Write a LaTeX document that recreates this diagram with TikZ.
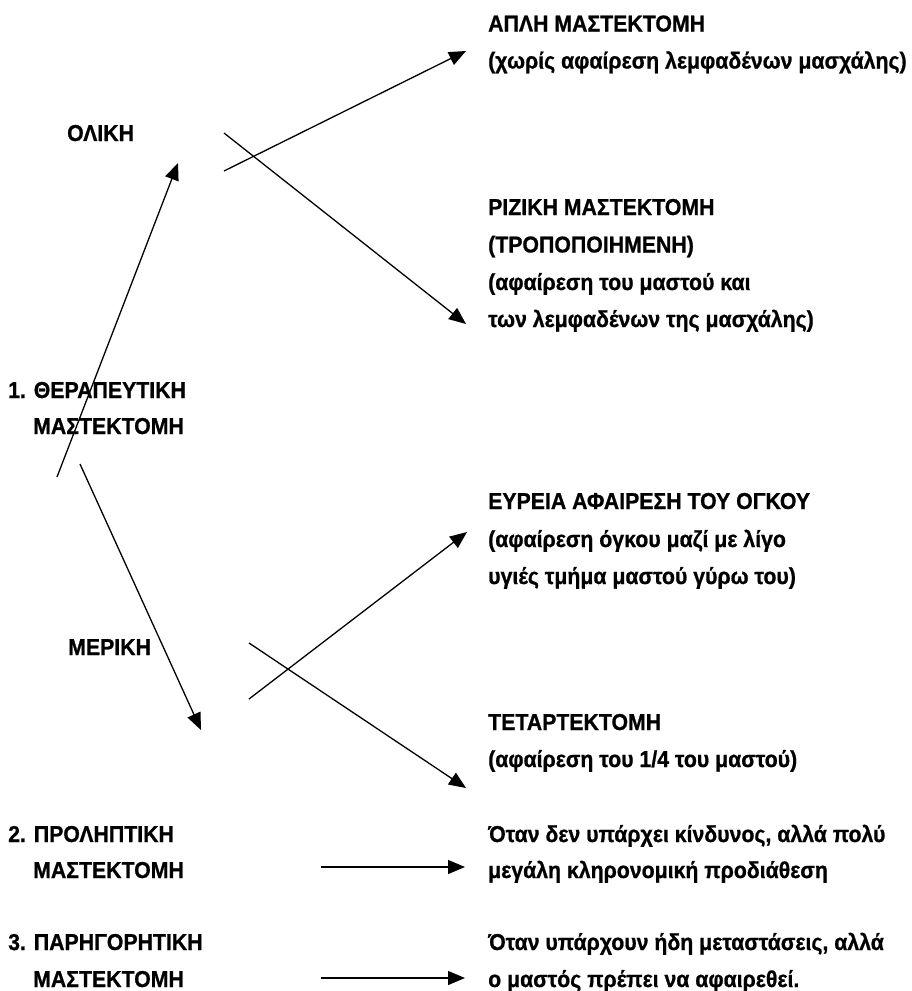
\documentclass[tikz,border=0pt]{standalone}
\usepackage{fontspec}
\setmainfont{Liberation Sans}[BoldFeatures={FakeStretch=0.925,FakeBold=0.8}]
\usetikzlibrary{arrows.meta}
\tikzset{
  txt/.style={anchor=base west, inner sep=0pt, font=\fontsize{23}{26}\selectfont\bfseries},
  arr/.style={line width=1.3pt, -{Triangle[length=17pt,width=14pt]}}
}
\begin{document}
\begin{tikzpicture}[x=1pt,y=-1pt]
\useasboundingbox (0,0) rectangle (912,991);
% left column
\node[txt] (olikh) at (67,141) {ΟΛΙΚΗ};
\node[txt] (ther1) at (8,398) {1. ΘΕΡΑΠΕΥΤΙΚΗ};
\node[txt] (ther2) at (33,434) {ΜΑΣΤΕΚΤΟΜΗ};
\node[txt] (merikh) at (68,655) {ΜΕΡΙΚΗ};
\node[txt] (prol1) at (8,842) {2. ΠΡΟΛΗΠΤΙΚΗ};
\node[txt] (prol2) at (33,878) {ΜΑΣΤΕΚΤΟΜΗ};
\node[txt] (par1) at (8,950) {3. ΠΑΡΗΓΟΡΗΤΙΚΗ};
\node[txt] (par2) at (33,987) {ΜΑΣΤΕΚΤΟΜΗ};
% right column
\node[txt] (apl1) at (488,31.5) {ΑΠΛΗ ΜΑΣΤΕΚΤΟΜΗ};
\node[txt] (apl2) at (488,68.5) {(χωρίς αφαίρεση λεμφαδένων μασχάλης)};
\node[txt] (riz1) at (488,215) {ΡΙΖΙΚΗ ΜΑΣΤΕΚΤΟΜΗ};
\node[txt] (riz2) at (488,252.5) {(ΤΡΟΠΟΠΟΙΗΜΕΝΗ)};
\node[txt] (riz3) at (488,290) {(αφαίρεση του μαστού και};
\node[txt] (riz4) at (488,327) {των λεμφαδένων της μασχάλης)};
\node[txt] (eur1) at (488,509) {ΕΥΡΕΙΑ ΑΦΑΙΡΕΣΗ ΤΟΥ ΟΓΚΟΥ};
\node[txt] (eur2) at (488,547) {(αφαίρεση όγκου μαζί με λίγο};
\node[txt] (eur3) at (488,584) {υγιές τμήμα μαστού γύρω του)};
\node[txt] (tet1) at (488,730) {ΤΕΤΑΡΤΕΚΤΟΜΗ};
\node[txt] (tet2) at (488,767) {(αφαίρεση του 1/4 του μαστού)};
\node[txt] (ot1) at (488,842) {Όταν δεν υπάρχει κίνδυνος, αλλά πολύ};
\node[txt] (ot2) at (488,878) {μεγάλη κληρονομική προδιάθεση};
\node[txt] (ot3) at (488,950) {Όταν υπάρχουν ήδη μεταστάσεις, αλλά};
\node[txt] (ot4) at (488,987) {ο μαστός πρέπει να αφαιρεθεί.};
% arrow end points
\coordinate (upS) at (57,477);   \coordinate (upE) at (178,163);
\coordinate (dnS) at (80,464);   \coordinate (dnE) at (201,730);
\coordinate (o1S) at (224,171);  \coordinate (o1E) at (466,51);
\coordinate (o2S) at (224,133);  \coordinate (o2E) at (466,324);
\coordinate (m1S) at (249,699);  \coordinate (m1E) at (467,532);
\coordinate (m2S) at (249,643);  \coordinate (m2E) at (466,788);
\coordinate (h1S) at (321,867);  \coordinate (h1E) at (465,867);
\coordinate (h2S) at (321,978);  \coordinate (h2E) at (465,978);
\draw[arr] (upS) -- (upE);
\draw[arr] (dnS) -- (dnE);
\draw[arr] (o1S) -- (o1E);
\draw[arr] (o2S) -- (o2E);
\draw[arr] (m1S) -- (m1E);
\draw[arr] (m2S) -- (m2E);
\draw[arr] (h1S) -- (h1E);
\draw[arr] (h2S) -- (h2E);
\end{tikzpicture}
\end{document}
